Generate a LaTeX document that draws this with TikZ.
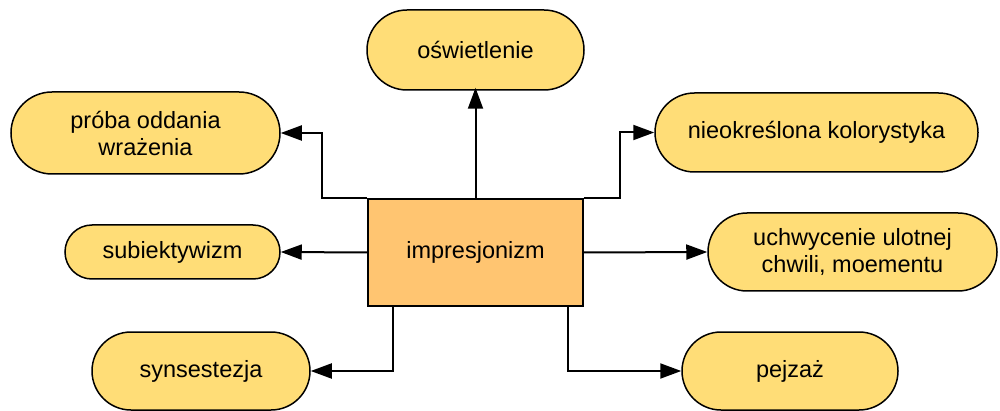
\documentclass[tikz,border=0pt]{standalone}
\usepackage{fontspec}
\setmainfont{Liberation Sans}
\usetikzlibrary{shapes.misc,arrows.meta}
\definecolor{pillc}{HTML}{FFDD77}
\definecolor{corec}{HTML}{FFC571}
\begin{document}
\begin{tikzpicture}[x=1pt,y=-1pt,
  pill/.style={rounded rectangle, draw=black, line width=1.5pt, fill=pillc,
    inner sep=0pt, align=center, font=\fontsize{23.5}{27}\selectfont},
  corebox/.style={rectangle, draw=black, line width=1.5pt, fill=corec,
    inner sep=0pt, align=center, font=\fontsize{23.5}{27}\selectfont,
    minimum width=215pt, minimum height=107pt},
  conn/.style={line width=2pt, -{Triangle[length=21pt,width=15pt]}}]
\useasboundingbox (0,0) rectangle (1000,411);
\node[corebox] (box) at (475.5,252.5) {impresjonizm};
\node[pill, minimum width=217pt, minimum height=80pt] (osw) at (475.5,50) {oświetlenie};
\node[pill, minimum width=269pt, minimum height=82pt] (proba) at (145.5,133) {próba oddania\\wrażenia};
\node[pill, minimum width=323pt, minimum height=79pt] (nieok) at (816.5,132.5) {nieokreślona kolorystyka};
\node[pill, minimum width=215pt, minimum height=54pt] (subie) at (172.5,252) {subiektywizm};
\node[pill, minimum width=289pt, minimum height=78pt] (uchwy) at (852.5,252) {uchwycenie ulotnej\\chwili, moementu};
\node[pill, minimum width=218pt, minimum height=78pt] (synse) at (201,371) {synsestezja};
\node[pill, minimum width=216pt, minimum height=78pt] (pejzaz) at (790,371) {pejzaż};
\draw[conn] (box.north) -- ([yshift=3pt]osw.south);
\draw[conn] (box.north west) -- ++(-45,0) |- (proba.east);
\draw[conn] (box.north east) -- ++(36,0) |- (nieok.west);
\draw[conn] (box.west) -- (subie.east);
\draw[conn] (box.east) -- (uchwy.west);
\draw[conn] ([xshift=26pt]box.south west) |- (synse.east);
\draw[conn] ([xshift=-16pt]box.south east) |- (pejzaz.west);
\end{tikzpicture}
\end{document}
